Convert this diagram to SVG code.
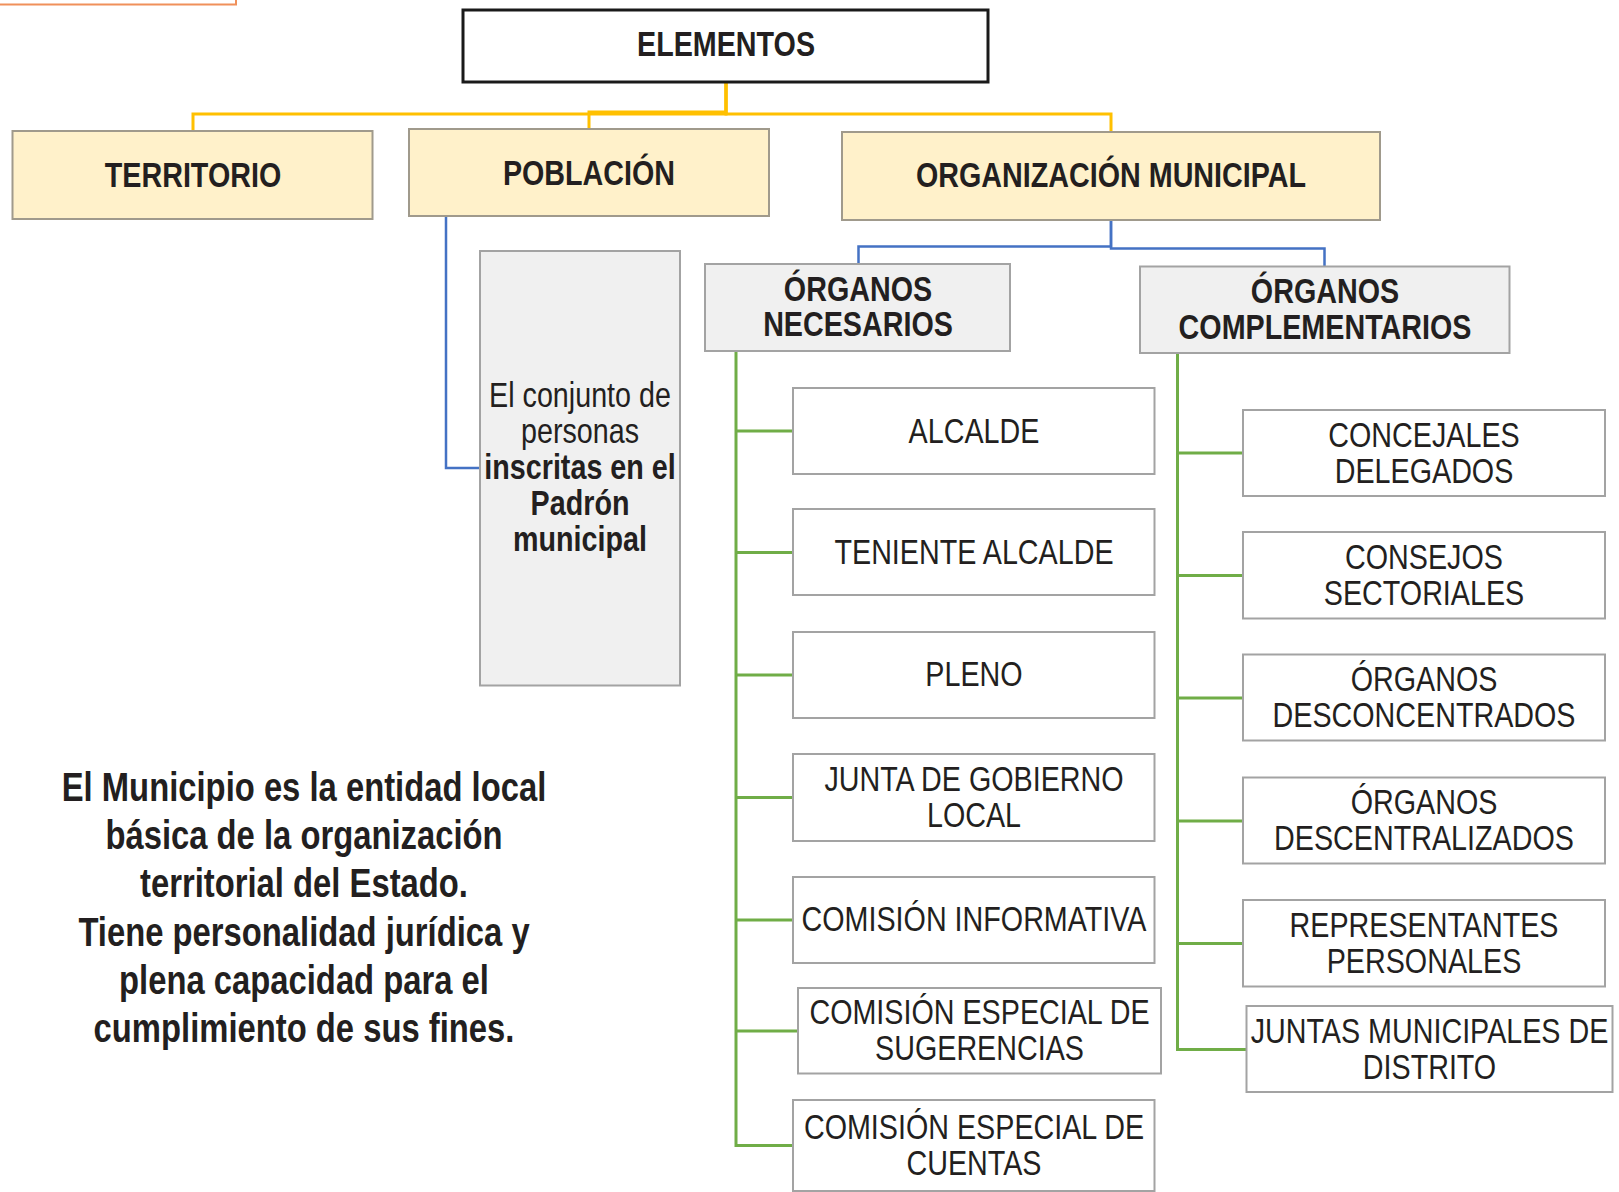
<svg xmlns="http://www.w3.org/2000/svg" width="1619" height="1192" viewBox="0 0 1619 1192">
<style>
  text { font-family: "Liberation Sans", Arial, sans-serif; fill: #231f20; text-anchor: middle; font-size: 35px; }
  .b { font-weight: bold; }
  .big { font-size: 40px; font-weight: bold; }
  .yel { fill: #fff1ca; stroke: #a09a8c; stroke-width: 2; }
  .gry { fill: #f0f0f0; stroke: #a3a3a3; stroke-width: 2; }
  .wht { fill: #ffffff; stroke: #a3a3a3; stroke-width: 2; }
  .top { fill: #ffffff; stroke: #1a1a1a; stroke-width: 3; }
  .cy { fill: none; stroke: #ffc000; stroke-width: 3; }
  .cb { fill: none; stroke: #4472c4; stroke-width: 2.5; }
  .cg { fill: none; stroke: #70ad47; stroke-width: 3; }
</style>
<rect width="1619" height="1192" fill="#ffffff"/>
<path d="M0 4.5 H236 V0" fill="none" stroke="#f0905a" stroke-width="2"/>

<g id="connectors">
  <path class="cy" d="M726 83 V114 H193 V131"/>
  <path class="cy" d="M726 83 V114 H1111 V131"/>
  <path class="cy" d="M726 83 V112 H589 V129"/>
  <path class="cb" d="M446 216 V468 H480"/>
  <path class="cb" d="M1111 219 V246.5 H858.5 V264"/>
  <path class="cb" d="M1111 219 V248.5 H1324.5 V266.5"/>
  <path class="cg" d="M736 351 V1145.5 H793"/>
  <path class="cg" d="M736 431 H793 M736 552.5 H793 M736 675 H793 M736 797.5 H793 M736 920 H793 M736 1031 H798"/>
  <path class="cg" d="M1177.5 353 V1049.5 H1246.5"/>
  <path class="cg" d="M1177.5 453 H1243 M1177.5 575.5 H1243 M1177.5 698 H1243 M1177.5 821 H1243 M1177.5 943.5 H1243"/>
</g>

<g id="elementos">
  <rect class="top" x="463" y="10" width="525" height="72"/>
  <text class="b" transform="translate(726 56) scale(0.82 1)">ELEMENTOS</text>
</g>
<g id="territorio">
  <rect class="yel" x="12.5" y="131" width="360" height="88"/>
  <text class="b" transform="translate(193 186.5) scale(0.82 1)">TERRITORIO</text>
</g>
<g id="poblacion">
  <rect class="yel" x="409" y="129" width="360" height="87"/>
  <text class="b" transform="translate(589 185) scale(0.82 1)">POBLACIÓN</text>
</g>
<g id="organizacion">
  <rect class="yel" x="842" y="132" width="538" height="88"/>
  <text class="b" transform="translate(1111 186.5) scale(0.82 1)">ORGANIZACIÓN MUNICIPAL</text>
</g>
<g id="poblacion-def">
  <rect class="gry" x="480" y="251" width="200" height="434.5"/>
  <text transform="translate(580 407) scale(0.82 1)">El conjunto de</text>
  <text transform="translate(580 443) scale(0.82 1)">personas</text>
  <text class="b" transform="translate(580 479) scale(0.82 1)">inscritas en el</text>
  <text class="b" transform="translate(580 515) scale(0.82 1)">Padrón</text>
  <text class="b" transform="translate(580 551) scale(0.82 1)">municipal</text>
</g>
<g id="organos-necesarios">
  <rect class="gry" x="705" y="264" width="305" height="87"/>
  <text class="b" transform="translate(858 301) scale(0.82 1)">ÓRGANOS</text>
  <text class="b" transform="translate(858 336) scale(0.82 1)">NECESARIOS</text>
</g>
<g id="organos-complementarios">
  <rect class="gry" x="1140" y="266.5" width="369.5" height="86.5"/>
  <text class="b" transform="translate(1325 303) scale(0.82 1)">ÓRGANOS</text>
  <text class="b" transform="translate(1325 338.5) scale(0.82 1)">COMPLEMENTARIOS</text>
</g>

<g id="alcalde">
  <rect class="wht" x="793" y="388" width="361.5" height="86"/>
  <text transform="translate(974 442.5) scale(0.82 1)">ALCALDE</text>
</g>
<g id="teniente-alcalde">
  <rect class="wht" x="793" y="509" width="361.5" height="86"/>
  <text transform="translate(974 563.5) scale(0.82 1)">TENIENTE ALCALDE</text>
</g>
<g id="pleno">
  <rect class="wht" x="793" y="632" width="361.5" height="86"/>
  <text transform="translate(974 686) scale(0.82 1)">PLENO</text>
</g>
<g id="junta-gobierno">
  <rect class="wht" x="793" y="754" width="361.5" height="87"/>
  <text transform="translate(974 791) scale(0.82 1)">JUNTA DE GOBIERNO</text>
  <text transform="translate(974 827) scale(0.82 1)">LOCAL</text>
</g>
<g id="comision-informativa">
  <rect class="wht" x="793" y="877" width="361.5" height="86"/>
  <text transform="translate(974 931) scale(0.82 1)">COMISIÓN INFORMATIVA</text>
</g>
<g id="comision-sugerencias">
  <rect class="wht" x="798" y="988" width="363" height="85.5"/>
  <text transform="translate(979.5 1023.5) scale(0.82 1)">COMISIÓN ESPECIAL DE</text>
  <text transform="translate(979.5 1059.5) scale(0.82 1)">SUGERENCIAS</text>
</g>
<g id="comision-cuentas">
  <rect class="wht" x="793" y="1100" width="361.5" height="91"/>
  <text transform="translate(974 1138.5) scale(0.82 1)">COMISIÓN ESPECIAL DE</text>
  <text transform="translate(974 1174.5) scale(0.82 1)">CUENTAS</text>
</g>

<g id="concejales-delegados">
  <rect class="wht" x="1243" y="410" width="362" height="86"/>
  <text transform="translate(1424 446.5) scale(0.82 1)">CONCEJALES</text>
  <text transform="translate(1424 482.5) scale(0.82 1)">DELEGADOS</text>
</g>
<g id="consejos-sectoriales">
  <rect class="wht" x="1243" y="532" width="362" height="86.5"/>
  <text transform="translate(1424 568.5) scale(0.82 1)">CONSEJOS</text>
  <text transform="translate(1424 604.5) scale(0.82 1)">SECTORIALES</text>
</g>
<g id="organos-desconcentrados">
  <rect class="wht" x="1243" y="654.5" width="362" height="86"/>
  <text transform="translate(1424 691) scale(0.82 1)">ÓRGANOS</text>
  <text transform="translate(1424 727) scale(0.82 1)">DESCONCENTRADOS</text>
</g>
<g id="organos-descentralizados">
  <rect class="wht" x="1243" y="777.5" width="362" height="86"/>
  <text transform="translate(1424 814) scale(0.82 1)">ÓRGANOS</text>
  <text transform="translate(1424 850) scale(0.82 1)">DESCENTRALIZADOS</text>
</g>
<g id="representantes-personales">
  <rect class="wht" x="1243" y="900" width="362" height="86.5"/>
  <text transform="translate(1424 936.5) scale(0.82 1)">REPRESENTANTES</text>
  <text transform="translate(1424 972.5) scale(0.82 1)">PERSONALES</text>
</g>
<g id="juntas-distrito">
  <rect class="wht" x="1246.5" y="1006" width="366" height="86"/>
  <text transform="translate(1429.5 1042.5) scale(0.82 1)">JUNTAS MUNICIPALES DE</text>
  <text transform="translate(1429.5 1078.5) scale(0.82 1)">DISTRITO</text>
</g>

<g id="definicion">
  <text class="big" transform="translate(304 801) scale(0.82 1)">El Municipio es la entidad local</text>
  <text class="big" transform="translate(304 849) scale(0.82 1)">básica de la organización</text>
  <text class="big" transform="translate(304 897) scale(0.82 1)">territorial del Estado.</text>
  <text class="big" transform="translate(304 946) scale(0.82 1)">Tiene personalidad jurídica y</text>
  <text class="big" transform="translate(304 994) scale(0.82 1)">plena capacidad para el</text>
  <text class="big" transform="translate(304 1042) scale(0.82 1)">cumplimiento de sus fines.</text>
</g>
</svg>
